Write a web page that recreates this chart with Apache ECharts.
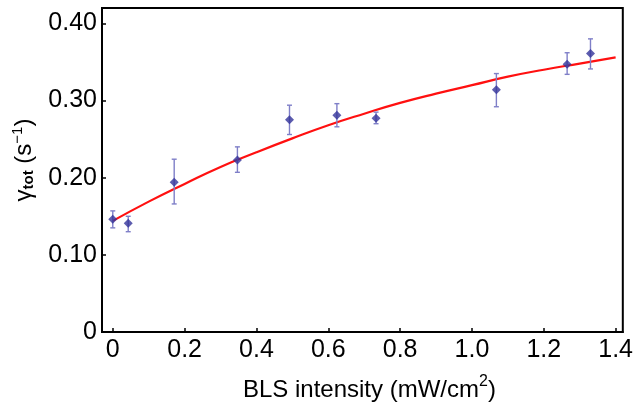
<!DOCTYPE html>
<html><head><meta charset="utf-8">
<script src="https://cdn.jsdelivr.net/npm/echarts@6/dist/echarts.min.js"></script>
<style>html,body{margin:0;padding:0;background:#fff}#c{width:636px;height:407px}</style>
</head><body><div id="c"></div>
<script>
const xTicks = [0, 0.2, 0.4, 0.6, 0.8, 1.0, 1.2, 1.4];
const yTicks = [0, 0.10, 0.20, 0.30, 0.40];
const dataX = [0, 0.043, 0.171, 0.347, 0.492, 0.624, 0.733, 1.068, 1.265, 1.330];
const dataY = [0.146, 0.141, 0.194, 0.223, 0.275, 0.281, 0.277, 0.314, 0.347, 0.361];
const errLow = [0.135, 0.130, 0.166, 0.207, 0.256, 0.266, 0.270, 0.292, 0.334, 0.341];
const errHigh = [0.157, 0.150, 0.224, 0.240, 0.294, 0.296, 0.285, 0.335, 0.362, 0.380];
const fitX = [0, 0.1, 0.2, 0.3, 0.4, 0.5, 0.6, 0.7, 0.8, 0.9, 1.0, 1.1, 1.2, 1.3, 1.4];
const fitY = [0.144, 0.169, 0.192, 0.214, 0.233, 0.251, 0.268, 0.283, 0.297, 0.309, 0.320, 0.331, 0.340, 0.348, 0.356];

const font = 'Liberation Sans, Arial, sans-serif';
const chart = echarts.init(document.getElementById('c'), null, {renderer: 'canvas'});
chart.setOption({
  animation: false,
  backgroundColor: '#fff',
  grid: {left: 102, right: 12, top: 8, bottom: 73, show: true, borderColor: '#000', borderWidth: 2},
  xAxis: {
    type: 'value', min: -0.03, max: 1.42, interval: 0.2,
    axisLine: {onZero: false, lineStyle: {color: '#000', width: 2}},
    axisTick: {inside: true, length: 4, lineStyle: {color: '#000', width: 1.5},
      customValues: xTicks},
    axisLabel: {customValues: xTicks, color: '#000', fontSize: 25, fontFamily: font, margin: 6,
      formatter: v => v === 0 ? '0' : v.toFixed(1)},
    splitLine: {show: false},
    name: '{a|BLS intensity (mW/cm}{s|2}{a|)}',
    nameLocation: 'middle', nameGap: 42,
    nameTextStyle: {padding: [0, 0, 0, 14], rich: {
      a: {fontSize: 24, fontFamily: font, color: '#000', verticalAlign: 'bottom', lineHeight: 28},
      s: {fontSize: 16, fontFamily: font, color: '#000', verticalAlign: 'top', lineHeight: 28, padding: [0,0,10,0]}
    }}
  },
  yAxis: {
    type: 'value', min: 0, max: 0.42,
    axisLine: {onZero: false, lineStyle: {color: '#000', width: 2}},
    axisTick: {inside: true, length: 4, lineStyle: {color: '#000', width: 1.5}, customValues: yTicks},
    axisLabel: {customValues: yTicks, color: '#000', fontSize: 25, fontFamily: font, margin: 5,
      formatter: v => v === 0 ? '0' : v.toFixed(2)},
    splitLine: {show: false},
    name: '{g|γ}{t|tot}{a| (s}{s|−1}{a|)}',
    nameLocation: 'middle', nameGap: 57, nameRotate: 90,
    nameTextStyle: {padding: [0, 0, 0, 20], rich: {
      g: {fontSize: 24, fontFamily: font, color: '#000', lineHeight: 30},
      a: {fontSize: 24, fontFamily: font, color: '#000', lineHeight: 30},
      t: {fontSize: 15, fontFamily: font, color: '#000', fontWeight: 'bold', lineHeight: 30, padding: [10,0,0,0]},
      s: {fontSize: 15, fontFamily: font, color: '#000', lineHeight: 30, padding: [0,0,12,0]}
    }}
  },
  series: [
    {
      type: 'line', data: fitX.map((x, i) => [x, fitY[i]]), smooth: true, showSymbol: false,
      lineStyle: {color: '#ff1010', width: 2.2}, z: 2
    },
    {
      type: 'custom', z: 3,
      data: dataX.map((x, i) => [x, errLow[i], errHigh[i]]),
      renderItem: function (params, api) {
        const lo = api.coord([api.value(0), api.value(1)]);
        const hi = api.coord([api.value(0), api.value(2)]);
        const w = 2.5;
        const st = {stroke: '#7f7fc8', lineWidth: 1.4};
        return {type: 'group', children: [
          {type: 'line', shape: {x1: lo[0], y1: lo[1], x2: hi[0], y2: hi[1]}, style: st},
          {type: 'line', shape: {x1: lo[0]-w, y1: lo[1], x2: lo[0]+w, y2: lo[1]}, style: st},
          {type: 'line', shape: {x1: hi[0]-w, y1: hi[1], x2: hi[0]+w, y2: hi[1]}, style: st}
        ]};
      }
    },
    {
      type: 'scatter', z: 4, data: dataX.map((x, i) => [x, dataY[i]]),
      symbol: 'diamond', symbolSize: 9, itemStyle: {color: '#33339a'}
    }
  ]
});
</script></body></html>
